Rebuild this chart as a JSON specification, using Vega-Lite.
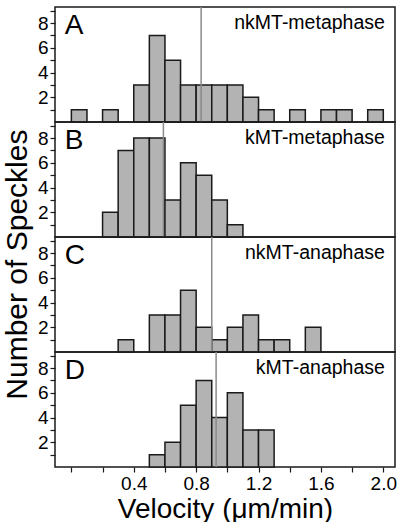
{
  "$schema": "https://vega.github.io/schema/vega-lite/v6.json",
  "padding": {"left": 2, "top": 5, "right": 4, "bottom": 2},
  "background": "white",
  "bounds": "flush",
  "title": {"text": "Number of Speckles", "orient": "left", "anchor": "middle", "fontSize": 30, "font": "Liberation Sans", "fontWeight": "normal", "color": "black", "offset": 4},
  "data": {"values": [
    {"kind": "bar", "panel": "A", "x0": 0.0, "x1": 0.1, "count": 1},
    {"kind": "bar", "panel": "A", "x0": 0.2, "x1": 0.3, "count": 1},
    {"kind": "bar", "panel": "A", "x0": 0.4, "x1": 0.5, "count": 3},
    {"kind": "bar", "panel": "A", "x0": 0.5, "x1": 0.6, "count": 7},
    {"kind": "bar", "panel": "A", "x0": 0.6, "x1": 0.7, "count": 5},
    {"kind": "bar", "panel": "A", "x0": 0.7, "x1": 0.8, "count": 3},
    {"kind": "bar", "panel": "A", "x0": 0.8, "x1": 0.9, "count": 3},
    {"kind": "bar", "panel": "A", "x0": 0.9, "x1": 1.0, "count": 3},
    {"kind": "bar", "panel": "A", "x0": 1.0, "x1": 1.1, "count": 3},
    {"kind": "bar", "panel": "A", "x0": 1.1, "x1": 1.2, "count": 2},
    {"kind": "bar", "panel": "A", "x0": 1.2, "x1": 1.3, "count": 1},
    {"kind": "bar", "panel": "A", "x0": 1.4, "x1": 1.5, "count": 1},
    {"kind": "bar", "panel": "A", "x0": 1.6, "x1": 1.7, "count": 1},
    {"kind": "bar", "panel": "A", "x0": 1.7, "x1": 1.8, "count": 1},
    {"kind": "bar", "panel": "A", "x0": 1.9, "x1": 2.0, "count": 1},
    {"kind": "bar", "panel": "B", "x0": 0.2, "x1": 0.3, "count": 2},
    {"kind": "bar", "panel": "B", "x0": 0.3, "x1": 0.4, "count": 7},
    {"kind": "bar", "panel": "B", "x0": 0.4, "x1": 0.5, "count": 8},
    {"kind": "bar", "panel": "B", "x0": 0.5, "x1": 0.6, "count": 8},
    {"kind": "bar", "panel": "B", "x0": 0.6, "x1": 0.7, "count": 3},
    {"kind": "bar", "panel": "B", "x0": 0.7, "x1": 0.8, "count": 6},
    {"kind": "bar", "panel": "B", "x0": 0.8, "x1": 0.9, "count": 5},
    {"kind": "bar", "panel": "B", "x0": 0.9, "x1": 1.0, "count": 3},
    {"kind": "bar", "panel": "B", "x0": 1.0, "x1": 1.1, "count": 1},
    {"kind": "bar", "panel": "C", "x0": 0.3, "x1": 0.4, "count": 1},
    {"kind": "bar", "panel": "C", "x0": 0.5, "x1": 0.6, "count": 3},
    {"kind": "bar", "panel": "C", "x0": 0.6, "x1": 0.7, "count": 3},
    {"kind": "bar", "panel": "C", "x0": 0.7, "x1": 0.8, "count": 5},
    {"kind": "bar", "panel": "C", "x0": 0.8, "x1": 0.9, "count": 2},
    {"kind": "bar", "panel": "C", "x0": 0.9, "x1": 1.0, "count": 1},
    {"kind": "bar", "panel": "C", "x0": 1.0, "x1": 1.1, "count": 2},
    {"kind": "bar", "panel": "C", "x0": 1.1, "x1": 1.2, "count": 3},
    {"kind": "bar", "panel": "C", "x0": 1.2, "x1": 1.3, "count": 1},
    {"kind": "bar", "panel": "C", "x0": 1.3, "x1": 1.4, "count": 1},
    {"kind": "bar", "panel": "C", "x0": 1.5, "x1": 1.6, "count": 2},
    {"kind": "bar", "panel": "D", "x0": 0.5, "x1": 0.6, "count": 1},
    {"kind": "bar", "panel": "D", "x0": 0.6, "x1": 0.7, "count": 2},
    {"kind": "bar", "panel": "D", "x0": 0.7, "x1": 0.8, "count": 5},
    {"kind": "bar", "panel": "D", "x0": 0.8, "x1": 0.9, "count": 7},
    {"kind": "bar", "panel": "D", "x0": 0.9, "x1": 1.0, "count": 4},
    {"kind": "bar", "panel": "D", "x0": 1.0, "x1": 1.1, "count": 6},
    {"kind": "bar", "panel": "D", "x0": 1.1, "x1": 1.2, "count": 3},
    {"kind": "bar", "panel": "D", "x0": 1.2, "x1": 1.3, "count": 3},
    {"kind": "mean", "panel": "A", "mean": 0.832},
    {"kind": "mean", "panel": "B", "mean": 0.59},
    {"kind": "mean", "panel": "C", "mean": 0.90},
    {"kind": "mean", "panel": "D", "mean": 0.928},
    {"kind": "label", "panel": "A", "letter": "A", "name": "nkMT-metaphase"},
    {"kind": "label", "panel": "B", "letter": "B", "name": "kMT-metaphase"},
    {"kind": "label", "panel": "C", "letter": "C", "name": "nkMT-anaphase"},
    {"kind": "label", "panel": "D", "letter": "D", "name": "kMT-anaphase"}
  ]},
  "spacing": 0,
  "vconcat": [
    {
      "width": 340, "height": 115,
      "transform": [{"filter": "datum.panel == 'A'"}],
      "layer": [
        {"transform": [{"filter": "datum.kind == 'bar'"}],
         "mark": {"type": "rect", "fill": "#b3b3b3", "stroke": "#1a1a1a", "strokeWidth": 1.5},
         "encoding": {
           "x": {"field": "x0", "type": "quantitative", "scale": {"domain": [-0.105, 2.075], "nice": false, "zero": false}, "axis": null},
           "x2": {"field": "x1"},
           "y": {"field": "count", "type": "quantitative", "title": null, "scale": {"domain": [0, 9.3], "nice": false},
                 "axis": {"values": [1, 2, 3, 4, 5, 6, 7, 8, 9], "labelExpr": "datum.value % 2 == 0 ? datum.label : ''"}},
           "y2": {"datum": 0}}},
        {"transform": [{"filter": "datum.kind == 'mean'"}],
         "mark": {"type": "rule", "color": "#8a8a8a", "strokeWidth": 1.5},
         "encoding": {"x": {"field": "mean", "type": "quantitative", "axis": null}}},
        {"transform": [{"filter": "datum.kind == 'label'"}],
         "mark": {"type": "text", "align": "left", "baseline": "alphabetic", "fontSize": 28, "color": "black"},
         "encoding": {"x": {"datum": -0.042, "type": "quantitative", "axis": null},
                      "y": {"datum": 7.1, "type": "quantitative", "title": null, "axis": {"values": [1, 2, 3, 4, 5, 6, 7, 8, 9], "labelExpr": "datum.value % 2 == 0 ? datum.label : ''"}},
                      "text": {"field": "letter"}}},
        {"transform": [{"filter": "datum.kind == 'label'"}],
         "mark": {"type": "text", "align": "right", "baseline": "alphabetic", "fontSize": 19.5, "color": "black"},
         "encoding": {"x": {"datum": 2.01, "type": "quantitative", "axis": null},
                      "y": {"datum": 7.55, "type": "quantitative", "title": null, "axis": {"values": [1, 2, 3, 4, 5, 6, 7, 8, 9], "labelExpr": "datum.value % 2 == 0 ? datum.label : ''"}},
                      "text": {"field": "name"}}}
      ]
    },
    {
      "width": 340, "height": 115,
      "transform": [{"filter": "datum.panel == 'B'"}],
      "layer": [
        {"transform": [{"filter": "datum.kind == 'bar'"}],
         "mark": {"type": "rect", "fill": "#b3b3b3", "stroke": "#1a1a1a", "strokeWidth": 1.5},
         "encoding": {
           "x": {"field": "x0", "type": "quantitative", "scale": {"domain": [-0.105, 2.075], "nice": false, "zero": false}, "axis": null},
           "x2": {"field": "x1"},
           "y": {"field": "count", "type": "quantitative", "title": null, "scale": {"domain": [0, 9.3], "nice": false},
                 "axis": {"values": [1, 2, 3, 4, 5, 6, 7, 8, 9], "labelExpr": "datum.value % 2 == 0 ? datum.label : ''"}},
           "y2": {"datum": 0}}},
        {"transform": [{"filter": "datum.kind == 'mean'"}],
         "mark": {"type": "rule", "color": "#8a8a8a", "strokeWidth": 1.5},
         "encoding": {"x": {"field": "mean", "type": "quantitative", "axis": null}}},
        {"transform": [{"filter": "datum.kind == 'label'"}],
         "mark": {"type": "text", "align": "left", "baseline": "alphabetic", "fontSize": 28, "color": "black"},
         "encoding": {"x": {"datum": -0.042, "type": "quantitative", "axis": null},
                      "y": {"datum": 7.1, "type": "quantitative", "title": null, "axis": {"values": [1, 2, 3, 4, 5, 6, 7, 8, 9], "labelExpr": "datum.value % 2 == 0 ? datum.label : ''"}},
                      "text": {"field": "letter"}}},
        {"transform": [{"filter": "datum.kind == 'label'"}],
         "mark": {"type": "text", "align": "right", "baseline": "alphabetic", "fontSize": 19.5, "color": "black"},
         "encoding": {"x": {"datum": 2.01, "type": "quantitative", "axis": null},
                      "y": {"datum": 7.55, "type": "quantitative", "title": null, "axis": {"values": [1, 2, 3, 4, 5, 6, 7, 8, 9], "labelExpr": "datum.value % 2 == 0 ? datum.label : ''"}},
                      "text": {"field": "name"}}}
      ]
    },
    {
      "width": 340, "height": 115,
      "transform": [{"filter": "datum.panel == 'C'"}],
      "layer": [
        {"transform": [{"filter": "datum.kind == 'bar'"}],
         "mark": {"type": "rect", "fill": "#b3b3b3", "stroke": "#1a1a1a", "strokeWidth": 1.5},
         "encoding": {
           "x": {"field": "x0", "type": "quantitative", "scale": {"domain": [-0.105, 2.075], "nice": false, "zero": false}, "axis": null},
           "x2": {"field": "x1"},
           "y": {"field": "count", "type": "quantitative", "title": null, "scale": {"domain": [0, 9.3], "nice": false},
                 "axis": {"values": [1, 2, 3, 4, 5, 6, 7, 8, 9], "labelExpr": "datum.value % 2 == 0 ? datum.label : ''"}},
           "y2": {"datum": 0}}},
        {"transform": [{"filter": "datum.kind == 'mean'"}],
         "mark": {"type": "rule", "color": "#8a8a8a", "strokeWidth": 1.5},
         "encoding": {"x": {"field": "mean", "type": "quantitative", "axis": null}}},
        {"transform": [{"filter": "datum.kind == 'label'"}],
         "mark": {"type": "text", "align": "left", "baseline": "alphabetic", "fontSize": 28, "color": "black"},
         "encoding": {"x": {"datum": -0.042, "type": "quantitative", "axis": null},
                      "y": {"datum": 7.1, "type": "quantitative", "title": null, "axis": {"values": [1, 2, 3, 4, 5, 6, 7, 8, 9], "labelExpr": "datum.value % 2 == 0 ? datum.label : ''"}},
                      "text": {"field": "letter"}}},
        {"transform": [{"filter": "datum.kind == 'label'"}],
         "mark": {"type": "text", "align": "right", "baseline": "alphabetic", "fontSize": 19.5, "color": "black"},
         "encoding": {"x": {"datum": 2.01, "type": "quantitative", "axis": null},
                      "y": {"datum": 7.55, "type": "quantitative", "title": null, "axis": {"values": [1, 2, 3, 4, 5, 6, 7, 8, 9], "labelExpr": "datum.value % 2 == 0 ? datum.label : ''"}},
                      "text": {"field": "name"}}}
      ]
    },
    {
      "width": 340, "height": 115,
      "transform": [{"filter": "datum.panel == 'D'"}],
      "layer": [
        {"transform": [{"filter": "datum.kind == 'bar'"}],
         "mark": {"type": "rect", "fill": "#b3b3b3", "stroke": "#1a1a1a", "strokeWidth": 1.5},
         "encoding": {
           "x": {"field": "x0", "type": "quantitative", "title": "Velocity (μm/min)", "scale": {"domain": [-0.105, 2.075], "nice": false, "zero": false},
                 "axis": {"values": [0, 0.2, 0.4, 0.6, 0.8, 1.0, 1.2, 1.4, 1.6, 1.8, 2.0], "format": ".1f",
                          "labelExpr": "indexof(['0.4','0.8','1.2','1.6','2.0'], datum.label) >= 0 ? datum.label : ''"}},
           "x2": {"field": "x1"},
           "y": {"field": "count", "type": "quantitative", "title": null, "scale": {"domain": [0, 9.3], "nice": false},
                 "axis": {"values": [1, 2, 3, 4, 5, 6, 7, 8, 9], "labelExpr": "datum.value % 2 == 0 ? datum.label : ''"}},
           "y2": {"datum": 0}}},
        {"transform": [{"filter": "datum.kind == 'mean'"}],
         "mark": {"type": "rule", "color": "#8a8a8a", "strokeWidth": 1.5},
         "encoding": {"x": {"field": "mean", "type": "quantitative", "title": "Velocity (μm/min)",
                 "axis": {"values": [0, 0.2, 0.4, 0.6, 0.8, 1.0, 1.2, 1.4, 1.6, 1.8, 2.0], "format": ".1f",
                          "labelExpr": "indexof(['0.4','0.8','1.2','1.6','2.0'], datum.label) >= 0 ? datum.label : ''"}}}},
        {"transform": [{"filter": "datum.kind == 'label'"}],
         "mark": {"type": "text", "align": "left", "baseline": "alphabetic", "fontSize": 28, "color": "black"},
         "encoding": {"x": {"datum": -0.042, "type": "quantitative", "title": "Velocity (μm/min)",
                 "axis": {"values": [0, 0.2, 0.4, 0.6, 0.8, 1.0, 1.2, 1.4, 1.6, 1.8, 2.0], "format": ".1f",
                          "labelExpr": "indexof(['0.4','0.8','1.2','1.6','2.0'], datum.label) >= 0 ? datum.label : ''"}},
                      "y": {"datum": 7.1, "type": "quantitative", "title": null, "axis": {"values": [1, 2, 3, 4, 5, 6, 7, 8, 9], "labelExpr": "datum.value % 2 == 0 ? datum.label : ''"}},
                      "text": {"field": "letter"}}},
        {"transform": [{"filter": "datum.kind == 'label'"}],
         "mark": {"type": "text", "align": "right", "baseline": "alphabetic", "fontSize": 19.5, "color": "black"},
         "encoding": {"x": {"datum": 2.01, "type": "quantitative", "title": "Velocity (μm/min)",
                 "axis": {"values": [0, 0.2, 0.4, 0.6, 0.8, 1.0, 1.2, 1.4, 1.6, 1.8, 2.0], "format": ".1f",
                          "labelExpr": "indexof(['0.4','0.8','1.2','1.6','2.0'], datum.label) >= 0 ? datum.label : ''"}},
                      "y": {"datum": 7.55, "type": "quantitative", "title": null, "axis": {"values": [1, 2, 3, 4, 5, 6, 7, 8, 9], "labelExpr": "datum.value % 2 == 0 ? datum.label : ''"}},
                      "text": {"field": "name"}}}
      ]
    }
  ],
  "config": {
    "view": {"stroke": "#1a1a1a", "strokeWidth": 1.5},
    "concat": {"spacing": 0},
    "font": "Liberation Sans",
    "axis": {
      "domain": false, "grid": false, "ticks": true, "tickColor": "#1a1a1a", "tickSize": 5, "tickWidth": 1.2,
      "labelFont": "Liberation Sans", "labelFontSize": 19, "labelColor": "black", "labelPadding": 2,
      "titleFont": "Liberation Sans", "titleFontWeight": "normal", "titleColor": "black"
    },
    "axisX": {"titleFontSize": 28, "titlePadding": 2, "labelFlush": false},
    "axisY": {"titleFontSize": 30, "titlePadding": 6}
  }
}
